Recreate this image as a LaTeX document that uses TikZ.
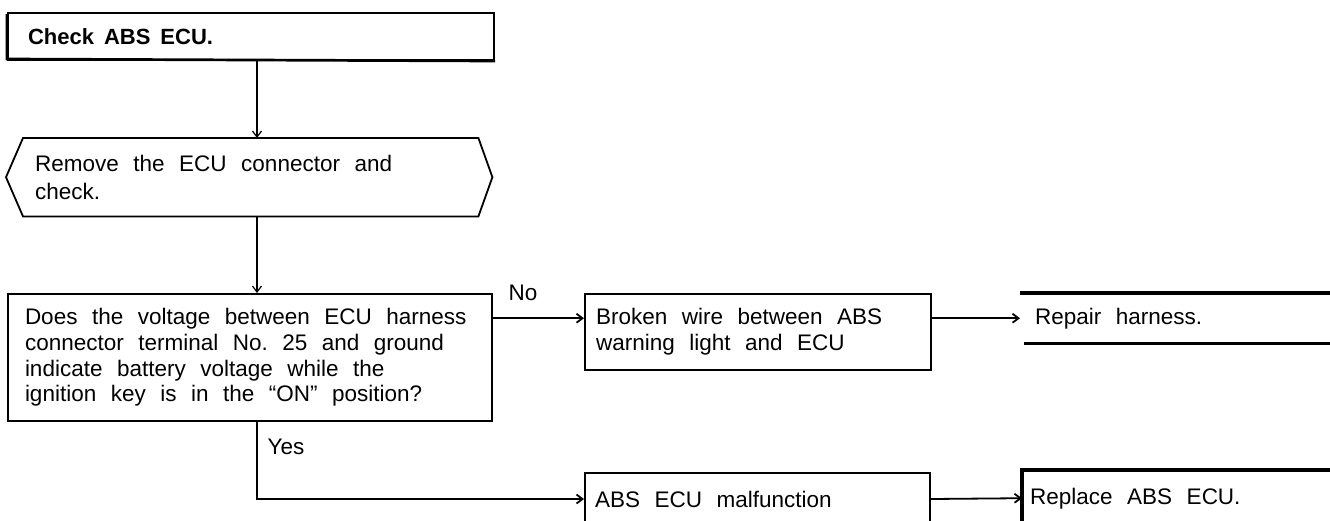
\documentclass[tikz,border=0pt]{standalone}
\usepackage{fontspec}
\setmainfont{Liberation Sans}
\usetikzlibrary{arrows.meta}
\newcommand\bodyfont{\fontsize{22.5pt}{25.7pt}\selectfont}
\newcommand\hexfont{\fontsize{22.5pt}{28pt}\selectfont}
\newcommand\headfont{\fontsize{22pt}{25pt}\selectfont\bfseries}

\begin{document}
\begin{tikzpicture}[x=1pt, y=-1pt,
  txt/.style={font=\bodyfont, align=left, inner ysep=0pt,
    execute at begin node={\spaceskip=14.5pt\xspaceskip=14.5pt\relax}},
  stepbox/.style={txt, anchor=north west},
  conn/.style={line width=1.8pt, -{Straight Barb[length=6pt, width=9pt]}},
  thinconn/.style={conn, line width=1.2pt},
]
  \useasboundingbox (0,0) rectangle (1330,520);
  % boxes
  \node[stepbox, draw, line width=2pt, inner xsep=20pt, text width=446pt, minimum height=47pt,
        font=\headfont, execute at begin node={\spaceskip=10pt\xspaceskip=10pt\relax}] (check) at (7,12) {Check ABS ECU.};
  \draw[line width=2.7pt] ([yshift=-2]check.north west) -- ([yshift=2]check.south west) -- (check.south east);
  \node[stepbox, inner xsep=12pt, text width=431pt, minimum height=78pt, font=\hexfont] (remove) at (23,138)
        {Remove the ECU connector and\\check.};
  \draw[line width=1.8pt] (remove.north west) -- ([xshift=-17]remove.west) -- (remove.south west)
    -- (remove.south east) -- ([xshift=14]remove.east) -- (remove.north east) -- cycle;
  \node[stepbox, draw, line width=2pt, inner xsep=17pt, text width=450pt, minimum height=127pt] (dec) at (7,293)
        {Does the voltage between ECU harness\\connector terminal No. 25 and ground\\indicate battery voltage while the\\ignition key is in the “ON” position?};
  \node[stepbox, draw, line width=2pt, inner xsep=11pt, text width=324pt, minimum height=76pt] (broken) at (584,293)
        {Broken wire between ABS\\warning light and ECU};
  \node[stepbox, inner xsep=15pt, text width=280pt, minimum height=50pt] (repair) at (1020,293) {Repair harness.};
  \draw[line width=3.5pt] (repair.north west) -- (repair.north east);
  \draw[line width=3.5pt] ([xshift=4]repair.south west) -- (repair.south east);
  \node[stepbox, draw, line width=2pt, inner xsep=10pt, text width=325pt, minimum height=52pt] (abs) at (584,472)
        {ABS ECU malfunction};
  \node[stepbox, inner xsep=8pt, text width=300pt, minimum height=56pt] (replace) at (1022,470) {Replace ABS ECU.};
  \draw[line width=3.5pt] (replace.south west) -- (replace.north west) -- (replace.north east);
  % labels
  \node[txt] (nolbl) at (523,293) {No};
  \node[txt] (yeslbl) at (286,447) {Yes};
  % connectors
  \draw[thinconn] ([xshift=6]check.south) -- ([xshift=6]check.south |- remove.north);
  \draw[thinconn] ([xshift=6]check.south |- remove.south) -- ([xshift=6]check.south |- dec.north);
  \draw[conn] ([xshift=6]check.south |- dec.south) |- (abs.west);
  \draw[conn] (dec.east |- repair.west) -- (broken.west |- repair.west);
  \draw[conn] (broken.east |- repair.west) -- (repair.west);
  \draw[conn] (abs.east) -- (replace.west);
\end{tikzpicture}
\end{document}
